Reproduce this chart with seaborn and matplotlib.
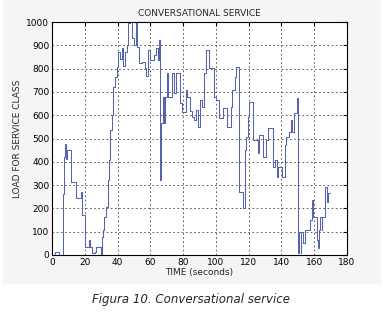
import matplotlib
matplotlib.use("Agg")
import matplotlib.pyplot as plt
import seaborn as sns
import pandas as pd
from matplotlib.patches import Rectangle

# step breakpoints (time in s, load)
time = [0, 2, 4, 7, 7.5, 8, 8.7, 9.3, 11.8, 14.5, 17.5, 18, 20.2, 22.5, 23.2,
        24.5, 26, 27, 30, 30.5, 31, 32, 33, 34, 34.7, 35.5, 36.5, 37.5, 38.5,
        39.5, 40.5, 41.5, 42.5, 43.5, 44.5, 45.5, 46.5, 47.5, 49, 50, 51, 52,
        53, 55, 56.5, 57.5, 58.5, 60, 62, 63.5, 64.5, 65.5, 66.2, 66.8, 67.5,
        68.5, 69, 70, 71, 73, 74.5, 75.5, 78, 79.5, 81.5, 82.5, 84.5, 85.5,
        86.5, 87.8, 88.8, 90.5, 91.5, 92.8, 94, 95.8, 98.8, 100, 102, 104.5,
        106.5, 109, 110, 111.5, 112.5, 114.3, 116.6, 117.5, 118.3, 119.5,
        120.5, 122.8, 125.8, 126.5, 128.8, 130.5, 132, 135, 136, 137.4, 138,
        140.5, 142, 143, 144.5, 145.8, 146.5, 147.5, 149.5, 150.4, 150.8,
        151.7, 152.2, 153.2, 154.4, 157.4, 158.4, 159.2, 161.4, 162.3, 163,
        163.5, 164.5, 165, 166.5, 167.5, 168.6, 169.5]
load = [0, 15, 0, 260, 420, 475, 410, 450, 315, 245, 270, 172, 36, 64, 36,
        8, 15, 36, 0, 79, 107, 164, 207, 322, 408, 536, 600, 722, 765,
        808, 870, 840, 890, 810, 870, 900, 995, 1000, 930, 900, 1000, 894,
        822, 830, 802, 770, 880, 837, 860, 890, 837, 922, 322, 566, 680,
        566, 680, 780, 680, 780, 695, 780, 652, 615, 708, 680, 620, 592,
        580, 622, 550, 665, 635, 780, 880, 802, 680, 665, 588, 630,
        550, 635, 708, 765, 808, 272, 200, 450, 506, 592,
        658, 494, 437, 515, 420, 494, 545, 378, 408, 335, 378,
        335, 472, 506, 528, 580, 528, 610, 673, 8, 100,
        8, 100, 50, 107, 150, 236, 165, 64, 30, 107,
        165, 107, 165, 293, 228, 266, 266]

df = pd.DataFrame({"time": time, "load": load})

sns.set_style("white")
plt.rcParams["font.family"] = ["DejaVu Sans"]

fig = plt.figure(figsize=(3.83, 3.15), dpi=100, facecolor="white")
fig.patches.append(Rectangle((0.008, 1 - 283 / 315), 0.984, 283 / 315,
                             transform=fig.transFigure, color="#f5f5f5", zorder=-10))
ax = fig.add_axes([52 / 383, 1 - 255 / 315, 295 / 383, 233 / 315])
ax.set_zorder(1)
ax.set_facecolor("white")

sns.lineplot(data=df, x="time", y="load", ax=ax, color="#5464ad", lw=0.75,
             drawstyle="steps-post")

ax.set_xlim(0, 180)
ax.set_ylim(0, 1000)
ax.set_xticks(range(0, 181, 20))
ax.set_yticks(range(0, 1001, 100))
ax.grid(True, color="#444444", ls=(0, (2, 3)), lw=0.6)
for s in ax.spines.values():
    s.set_color("black")
    s.set_linewidth(0.8)
ax.tick_params(direction="in", length=3, labelsize=6.5, colors="black",
               top=True, right=True, pad=2)

ax.set_title("CONVERSATIONAL SERVICE", fontsize=6.5, pad=4)
ax.set_xlabel("TIME (seconds)", fontsize=6.5, labelpad=1)
ax.set_ylabel("LOAD FOR SERVICE CLASS", fontsize=6.5, labelpad=3)

fig.text(0.5, 1 - 299 / 315, "Figura 10. Conversational service",
         ha="center", va="center", fontsize=8.5, style="italic")

fig.savefig("out.png", dpi=100, facecolor=fig.get_facecolor())
